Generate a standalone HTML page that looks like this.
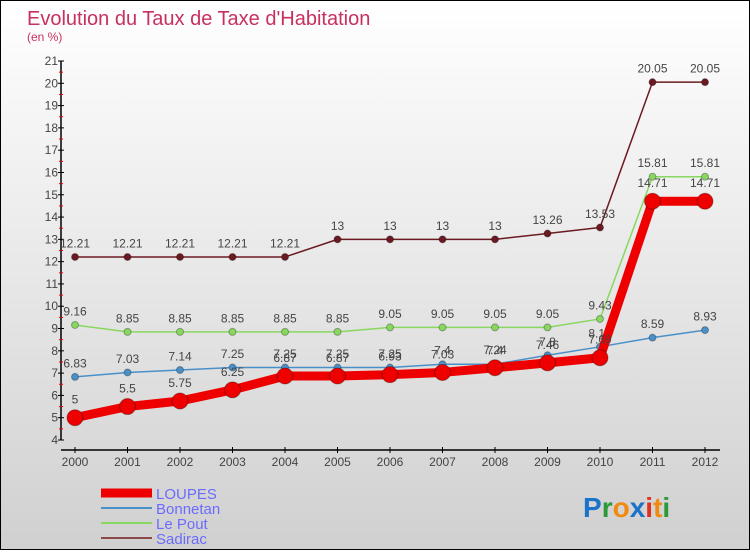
<!DOCTYPE html>
<html><head><meta charset="utf-8">
<style>
html,body{margin:0;padding:0}
body{width:750px;height:550px;overflow:hidden;font-family:"Liberation Sans",sans-serif}
#wrap{position:relative;width:748px;height:548px;border:1px solid #000;background:linear-gradient(#ffffff,#d0d0d0)}
</style></head>
<body>
<div id="wrap">
<svg id="chart" width="748" height="548">
<text x="26" y="24" font-size="20" fill="#c8305f">Evolution du Taux de Taxe d'Habitation</text>
<text x="26" y="40" font-size="12" fill="#c8305f">(en %)</text>
<g id="axes"></g>
<g id="series"></g>
<g id="legend"></g>
<text x="582" y="516" font-size="28" font-weight="bold"><tspan fill="#1a73c8">P</tspan><tspan fill="#2a9a3a">r</tspan><tspan fill="#f08a10">o</tspan><tspan fill="#1a73c8">x</tspan><tspan fill="#e03020">i</tspan><tspan fill="#f08a10">t</tspan><tspan fill="#2a9a3a">i</tspan></text>
</svg>
</div>
<script>
const years = ["2000","2001","2002","2003","2004","2005","2006","2007","2008","2009","2010","2011","2012"];
const yTicks = [4,5,6,7,8,9,10,11,12,13,14,15,16,17,18,19,20,21];
const seriesNames = ["LOUPES","Bonnetan","Le Pout","Sadirac"];
const loupes = [5,5.5,5.75,6.25,6.87,6.87,6.93,7.03,7.24,7.46,7.69,14.71,14.71];
const bonnetan = [6.83,7.03,7.14,7.25,7.25,7.25,7.25,7.4,7.4,7.8,8.18,8.59,8.93];
const lePout = [9.16,8.85,8.85,8.85,8.85,8.85,9.05,9.05,9.05,9.05,9.43,15.81,15.81];
const sadirac = [12.21,12.21,12.21,12.21,12.21,13,13,13,13,13.26,13.53,20.05,20.05];

const NS="http://www.w3.org/2000/svg";
const x0=74,x1=704,yBase=439,yTop=60,yMin=4,yMax=21;
const X=i=>x0+i*(x1-x0)/(years.length-1);
const Y=v=>yBase-(v-yMin)*(yBase-yTop)/(yMax-yMin);
function mk(tag,attrs,parent){const e=document.createElementNS(NS,tag);for(const k in attrs)e.setAttribute(k,attrs[k]);parent.appendChild(e);return e;}
const axes=document.getElementById('axes');
let a=mk('line',{x1:60,y1:yTop,x2:60,y2:yBase,stroke:'#000','stroke-width':1.5},axes);


a=mk('line',{x1:60,y1:449,x2:x1+15,y2:449,stroke:'#000','stroke-width':1.5},axes);


yTicks.forEach(v=>{
  mk('line',{x1:57,x2:63,y1:Y(v),y2:Y(v),stroke:'#000'},axes);
  if(v<yMax) mk('line',{x1:58,x2:62,y1:Y(v+0.5),y2:Y(v+0.5),stroke:'#e00'},axes);
  const t=mk('text',{x:57,y:Y(v)+4,'font-size':12,fill:'#444','text-anchor':'end'},axes);
  t.textContent=v;
  
  
});
years.forEach((y,i)=>{
  mk('line',{x1:X(i),x2:X(i),y1:446,y2:452,stroke:'#000'},axes);
  const t=mk('text',{x:X(i),y:465,'font-size':12,fill:'#444','text-anchor':'middle'},axes);
  t.textContent=y;
  
  
});
const sg=document.getElementById('series');
const defs=[
 {d:sadirac,c:'#6b1a22',w:1.5,r:3.5,name:'sadirac'},
 {d:lePout,c:'#88d860',w:1.5,r:3.5,name:'le-pout'},
 {d:bonnetan,c:'#4a90c8',w:1.5,r:3.5,name:'bonnetan'},
 {d:loupes,c:'#ee0000',w:9,r:8,name:'loupes'}
];
defs.forEach(s=>{
  const g=mk('g',{},sg);
  
  
  const p=mk('polyline',{points:s.d.map((v,i)=>X(i)+','+Y(v)).join(' '),fill:'none',stroke:s.c,'stroke-width':s.w,'stroke-linejoin':'round'},g);
  
  
  s.d.forEach((v,i)=>{
    const c=mk('circle',{cx:X(i),cy:Y(v),r:s.r,fill:s.c,stroke:'rgba(0,0,0,0.3)','stroke-width':1},g);
    
    
    const t=mk('text',{x:X(i),y:Y(v)-(s.r+6),'font-size':12,fill:'#444','text-anchor':'middle'},g);
    t.textContent=String(v);
    
    
  });
});
const lg=document.getElementById('legend');
const lc=[{c:'#ee0000',w:9},{c:'#4a90c8',w:2},{c:'#88d860',w:2},{c:'#8b4a4a',w:2}];
seriesNames.forEach((n,i)=>{
  const y=492+i*15;
  const g=mk('g',{},lg);
  
  
  mk('line',{x1:100,x2:151,y1:y,y2:y,stroke:lc[i].c,'stroke-width':lc[i].w},g);
  const t=mk('text',{x:155,y:y+6,'font-size':15,fill:'#6b6bff'},g);
  t.textContent=n;
});
</script>
</body></html>
